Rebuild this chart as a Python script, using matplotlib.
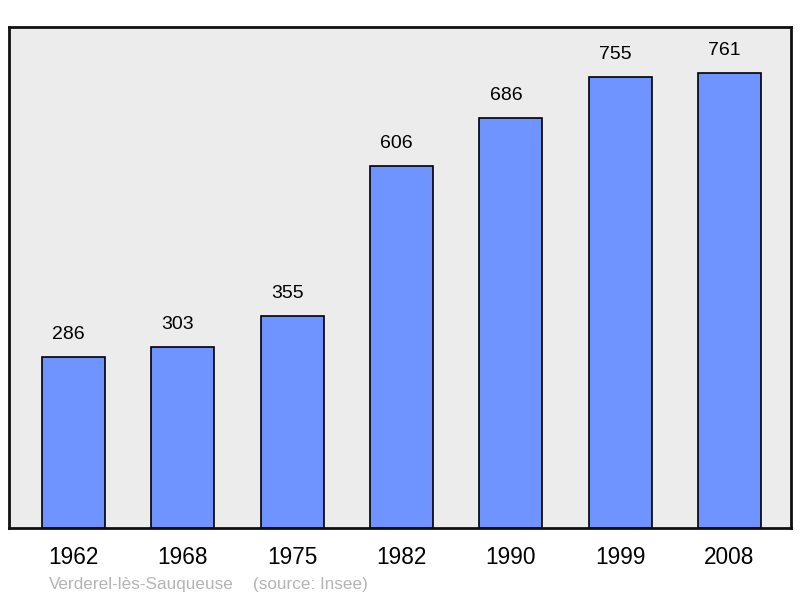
import matplotlib.pyplot as plt
import numpy as np

plt.rcParams['font.family'] = ['Liberation Sans', 'DejaVu Sans']

# Donnees
annees = ['1962', '1968', '1975', '1982', '1990', '1999', '2008']
population = [286, 303, 355, 606, 686, 755, 761]
commune = 'Verderel-lès-Sauqueuse'
source = '(source: Insee)'

fig = plt.figure(figsize=(8.0, 5.98), dpi=100)
ax = fig.add_axes([0.01125, 0.117, 0.9775, 0.838])
ax.set_facecolor('#ececec')

x = np.arange(len(annees))
ax.bar(x, population, width=0.576, color='#7094ff', edgecolor='black', linewidth=1.2, zorder=2)

# Valeurs au-dessus des barres
for xi, val in zip(x, population):
    ax.annotate(str(val), (xi, val), xytext=(-3.5, 10), textcoords='offset points',
                ha='center', va='bottom', fontsize=14, color='black')

ax.set_xlim(-0.59, 6.5625)
ax.set_ylim(0, 838)
ax.set_xticks(x)
ax.set_xticklabels(annees, fontsize=16.3)
ax.tick_params(axis='x', length=0, pad=13)
ax.set_yticks([])
for s in ax.spines.values():
    s.set_linewidth(2)
    s.set_color('#111111')

fig.text(0.061, 0.023, commune, fontsize=12.3, color='#b4b4b4', ha='left', va='center')
fig.text(0.316, 0.023, source, fontsize=12.3, color='#b4b4b4', ha='left', va='center')

plt.savefig('out.png', dpi=100)
